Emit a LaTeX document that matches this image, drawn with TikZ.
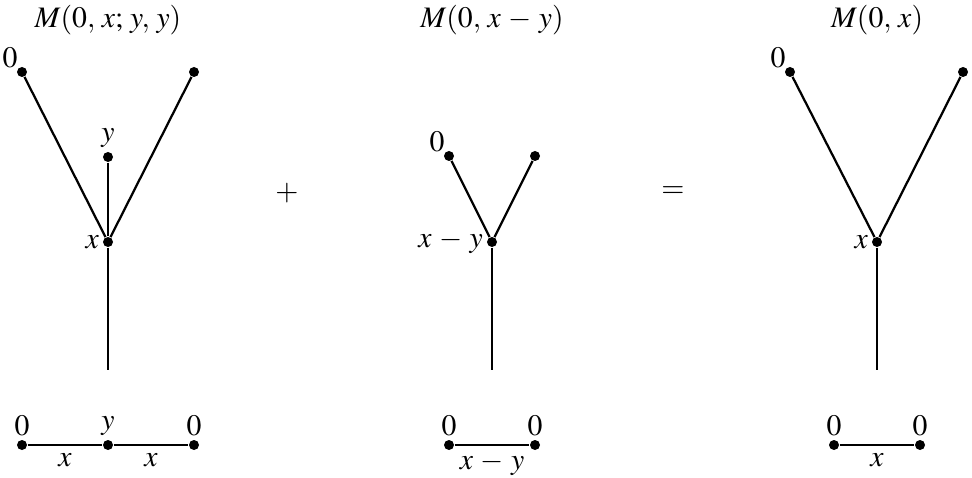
\documentclass[tikz,border=0pt]{standalone}
\usepackage{mathptmx}
\usetikzlibrary{positioning}
\tikzset{
  vertex/.style={circle,fill=black,inner sep=0pt,minimum size=3.8pt},
  edge/.style={line width=0.85pt},
  lab/.style={inner sep=1.2pt},
  corner/.style={inner sep=0pt},
  heading/.style={inner sep=0pt}
}
\begin{document}
\begin{tikzpicture}[x=0.38pt,y=-0.38pt,font=\fontsize{11.3}{13}\selectfont]
      \useasboundingbox (0,0) rectangle (972,478);
      % left tree M(0,x;y,y)
      \node[heading] (lhead) at (108,20) {$M(0,\,x;\,y,\,y)$};
      \node[vertex,label={[corner]above left:$0$}] (la) at (22,72) {};
      \node[vertex] (lb) at (194,72) {};
      \node[vertex,label={[lab]above:$y$}] (ly) at (108,157) {};
      \node[vertex,label={[lab]left:$x$}] (lx) at (108,242) {};
      \coordinate (lroot) at (108,370);
      \draw[edge] (la) -- (lx);
      \draw[edge] (lb) -- (lx);
      \draw[edge] (ly) -- (lx);
      \draw[edge] (lx) -- (lroot);
      \node[vertex,label={[lab]above:$0$}] (lp) at (22,445) {};
      \node[vertex,label={[lab]above:$y$}] (lq) at (108,445) {};
      \node[vertex,label={[lab]above:$0$}] (lr) at (194,445) {};
      \draw[edge] (lp) -- node[below=1.5pt,lab]{$x$} (lq);
      \draw[edge] (lq) -- node[below=1.5pt,lab]{$x$} (lr);

      \node (plus) at (287,193) {$+$};

      % middle tree M(0,x-y)
      \node[heading] (mhead) at (492,20) {$M(0,\,x\,-\,y)$};
      \node[vertex,label={[corner]above left:$0$}] (ma) at (449,156) {};
      \node[vertex] (mb) at (535,156) {};
      \node[vertex,label={[lab]left:$x\,-\,y$}] (mx) at (492,242) {};
      \coordinate (mroot) at (492,370);
      \draw[edge] (ma) -- (mx);
      \draw[edge] (mb) -- (mx);
      \draw[edge] (mx) -- (mroot);
      \node[vertex,label={[lab]above:$0$}] (mp) at (449,445) {};
      \node[vertex,label={[lab]above:$0$}] (mq) at (535,445) {};
      \draw[edge] (mp) -- node[below=1.2pt,lab]{$x\,-\,y$} (mq);

      \node (equal) at (673,192) {$=$};

      % right tree M(0,x)
      \node[heading] (rhead) at (877,20) {$M(0,\,x)$};
      \node[vertex,label={[corner]above left:$0$}] (ra) at (790,72) {};
      \node[vertex] (rb) at (963,72) {};
      \node[vertex,label={[lab]left:$x$}] (rx) at (877,242) {};
      \coordinate (rroot) at (877,370);
      \draw[edge] (ra) -- (rx);
      \draw[edge] (rb) -- (rx);
      \draw[edge] (rx) -- (rroot);
      \node[vertex,label={[lab]above:$0$}] (rp) at (834,445) {};
      \node[vertex,label={[lab]above:$0$}] (rq) at (920,445) {};
      \draw[edge] (rp) -- node[below=1.5pt,lab]{$x$} (rq);
    \end{tikzpicture}
\end{document}
